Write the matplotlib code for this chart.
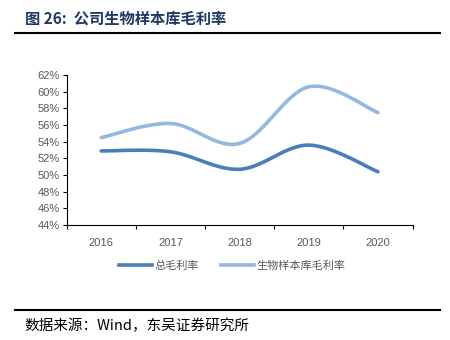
import numpy as np
import matplotlib
matplotlib.use('agg')
import matplotlib.pyplot as plt
from matplotlib.lines import Line2D

plt.rcParams['font.family'] = ['Noto Sans CJK SC', 'DejaVu Sans']

years = ['2016', '2017', '2018', '2019', '2020']
total_margin = [52.9, 52.8, 50.7, 53.6, 50.4]
biobank_margin = [54.5, 56.2, 53.8, 60.6, 57.5]
y_ticks = [44, 46, 48, 50, 52, 54, 56, 58, 60, 62]

dark = '#4a7ebb'
light = '#95b8e0'
grey = '#595959'


def smooth(xs, ys, n=30):
    # catmull-rom style smoothing like excel's smoothed line
    xs = np.asarray(xs, float)
    ys = np.asarray(ys, float)
    px = np.concatenate([[xs[0]], xs, [xs[-1]]])
    py = np.concatenate([[ys[0]], ys, [ys[-1]]])
    outx, outy = [], []
    for i in range(1, len(px) - 2):
        t = np.linspace(0, 1, n)
        p0, p1, p2, p3 = (np.array([px[j], py[j]]) for j in range(i - 1, i + 3))
        c1 = p1 + (p2 - p0) / 6
        c2 = p2 - (p3 - p1) / 6
        b = ((1 - t) ** 3)[:, None] * p1 + (3 * (1 - t) ** 2 * t)[:, None] * c1 \
            + (3 * (1 - t) * t ** 2)[:, None] * c2 + (t ** 3)[:, None] * p2
        outx.extend(b[:, 0])
        outy.extend(b[:, 1])
    return np.array(outx), np.array(outy)


fig = plt.figure(figsize=(4.5, 3.4), dpi=100)
fig.set_facecolor('white')
ax = fig.add_axes([0.148, 0.338, 0.769, 0.441])

x = np.arange(len(years))
sx, sy = smooth(x, total_margin)
ax.plot(sx, sy, color=dark, lw=2.6, solid_capstyle='round')
sx, sy = smooth(x, biobank_margin)
ax.plot(sx, sy, color=light, lw=2.6, solid_capstyle='round')

tick_font = ['Liberation Sans', 'DejaVu Sans']
ax.set_xlim(-0.5, len(years) - 0.5)
ax.set_ylim(44, 62)
ax.set_yticks(y_ticks)
ax.set_yticklabels([f'{v}%' for v in y_ticks], color=grey, fontsize=8, family=tick_font)
ax.set_xticks(np.arange(len(years) + 1) - 0.5)
ax.set_xticklabels([])
ax.set_xticks(x, minor=True)
ax.set_xticklabels(years, minor=True, color=grey, fontsize=8, family=tick_font)
ax.tick_params(axis='x', which='minor', length=0, pad=9)
ax.tick_params(axis='x', which='major', length=3, direction='out')
ax.tick_params(axis='y', length=3, direction='out', pad=2)
for s in ['top', 'right']:
    ax.spines[s].set_visible(False)
for s in ['left', 'bottom']:
    ax.spines[s].set_color('#000000')
    ax.spines[s].set_linewidth(0.8)

handles = [Line2D([], [], color=dark, lw=2.6), Line2D([], [], color=light, lw=2.6)]
fig.legend(handles, ['总毛利率', '生物样本库毛利率'], loc='center',
           bbox_to_anchor=(0.516, 0.217), ncol=2, frameon=False, fontsize=8,
           labelcolor=grey, handlelength=3.0, handletextpad=0.2, columnspacing=2.0)

fig.text(0.055, 0.945, '图 26:  公司生物样本库毛利率', fontsize=11, fontweight='bold',
         color='#1f3864', va='center')
fig.add_artist(Line2D([0.033, 0.978], [0.903, 0.903], color='black', lw=1.5))
fig.add_artist(Line2D([0.033, 0.978], [0.088, 0.088], color='black', lw=1.5))
fig.text(0.055, 0.042, '数据来源：Wind，东吴证券研究所', fontsize=10.5, color='black',
         va='center')

fig.savefig('out.png', dpi=100)
